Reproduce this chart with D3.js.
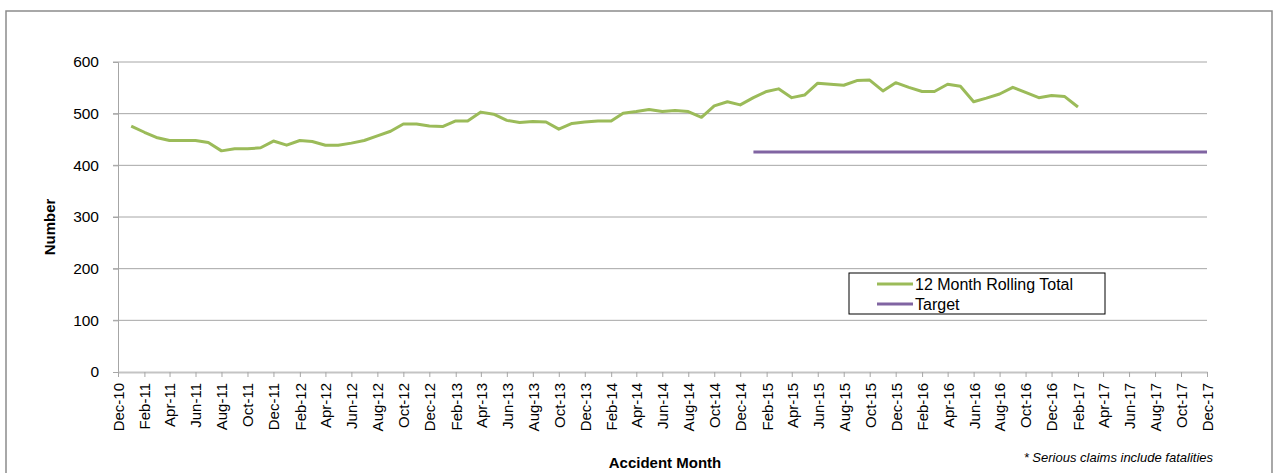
<!DOCTYPE html>
<html>
<head>
<meta charset="utf-8">
<script src="https://cdn.jsdelivr.net/npm/d3@7"></script>
<style>
  body { margin: 0; background: #fff; }
  svg { display: block; }
  text { font-family: "Liberation Sans", Arial, sans-serif; fill: #000; }
</style>
</head>
<body>
<svg id="chart"></svg>
<script>
// 12 month rolling total, Jan-11 .. Feb-17
const seriesName = "12 Month Rolling Total";
const rollingTotal = [
  476, 464, 454, 448, 448, 448, 444, 428, 432, 432, 434, 447, // 2011
  439, 448, 446, 439, 439, 443, 448, 457, 466, 480, 480, 476, // 2012
  475, 486, 486, 503, 499, 487, 483, 485, 484, 470, 481, 484, // 2013
  486, 486, 501, 504, 508, 504, 506, 504, 493, 515, 523, 517, // 2014
  531, 543, 548, 531, 536, 559, 557, 555, 564, 565, 544, 560, // 2015
  551, 543, 543, 557, 553, 523, 530, 538, 551, 541, 531, 535, // 2016
  533, 513                                                    // 2017
];
const firstMonth = new Date(2011, 0, 1);

const targetName = "Target";
const targetValue = 426;
const targetStart = new Date(2015, 0, 1);
const targetEnd = new Date(2017, 11, 1);

const axisStart = new Date(2010, 11, 1);
const axisEnd = new Date(2017, 11, 1);
const yTicks = [0, 100, 200, 300, 400, 500, 600];

const width = 1275, height = 473;
const svg = d3.select("#chart").attr("width", width).attr("height", height);

// outer chart frame (bottom edge is off the picture)
svg.append("path")
  .attr("d", "M6,480 V11 H1272 V480")
  .attr("fill", "none")
  .attr("stroke", "#8c8c8c")
  .attr("stroke-width", 1.5);

const x = d3.scaleTime().domain([axisStart, axisEnd]).range([118, 1207]);
const y = d3.scaleLinear().domain([0, 600]).range([372, 62]);

const months = rollingTotal.map((v, i) => ({ date: d3.timeMonth.offset(firstMonth, i), value: v }));

// gridlines
svg.append("g")
  .selectAll("line")
  .data(yTicks.filter(d => d > 0))
  .join("line")
  .attr("x1", 113).attr("x2", x(axisEnd))
  .attr("y1", d => y(d)).attr("y2", d => y(d))
  .attr("stroke", "#a6a6a6").attr("stroke-width", 1);

// y axis
const yAxis = svg.append("g")
  .attr("transform", "translate(118,0)")
  .call(d3.axisLeft(y).tickValues(yTicks).tickSize(5).tickPadding(14));
yAxis.select(".domain").attr("stroke", "#a6a6a6");
yAxis.selectAll(".tick line").attr("stroke", "#a6a6a6");
yAxis.selectAll("text")
  .style("font-size", "15.5px")
  .attr("fill", "#000")
  .style("font-family", "'Liberation Sans', Arial, sans-serif");

// x axis
const xTickValues = d3.timeMonth.range(axisStart, d3.timeDay.offset(axisEnd, 1), 2);
const xAxis = svg.append("g")
  .attr("transform", "translate(0,372)")
  .call(d3.axisBottom(x).tickValues(xTickValues).tickFormat(d3.timeFormat("%b-%y")).tickSize(5).tickSizeOuter(0));
xAxis.select(".domain").attr("stroke", "#c4c4c4").attr("stroke-width", 2);
xAxis.selectAll(".tick line").attr("stroke", "#a6a6a6");
xAxis.selectAll("text")
  .attr("transform", "rotate(-90)")
  .attr("text-anchor", "end")
  .attr("x", -11)
  .attr("y", 0)
  .attr("dy", "0.36em")
  .attr("fill", "#000")
  .style("font-size", "15px")
  .style("font-family", "'Liberation Sans', Arial, sans-serif");

// target line
svg.append("line")
  .attr("x1", x(targetStart)).attr("x2", x(targetEnd))
  .attr("y1", y(targetValue)).attr("y2", y(targetValue))
  .attr("stroke", "#8064a2").attr("stroke-width", 3);

// rolling total line
const line = d3.line().x(d => x(d.date)).y(d => y(d.value));
svg.append("path")
  .datum(months)
  .attr("d", line)
  .attr("fill", "none")
  .attr("stroke", "#9bbb59")
  .attr("stroke-width", 3)
  .attr("stroke-linejoin", "round");

// axis titles
svg.append("text")
  .attr("transform", "translate(55,227) rotate(-90)")
  .attr("text-anchor", "middle")
  .style("font-size", "15px")
  .style("font-weight", "bold")
  .text("Number");

svg.append("text")
  .attr("x", 665).attr("y", 468)
  .attr("text-anchor", "middle")
  .style("font-size", "15px")
  .style("font-weight", "bold")
  .text("Accident Month");

svg.append("text")
  .attr("x", 1213).attr("y", 462)
  .attr("text-anchor", "end")
  .style("font-size", "13px")
  .style("font-style", "italic")
  .text("* Serious claims include fatalities");

// legend
const legend = svg.append("g").attr("transform", "translate(849,273)");
legend.append("rect")
  .attr("width", 256).attr("height", 41)
  .attr("fill", "#fff").attr("stroke", "#000").attr("stroke-width", 1);
const legendItems = [
  { name: seriesName, color: "#9bbb59" },
  { name: targetName, color: "#8064a2" }
];
legendItems.forEach((d, i) => {
  const yy = 11 + i * 20;
  legend.append("line")
    .attr("x1", 28).attr("x2", 64)
    .attr("y1", yy).attr("y2", yy)
    .attr("stroke", d.color).attr("stroke-width", 3);
  legend.append("text")
    .attr("x", 66).attr("y", yy).attr("dy", "0.35em")
    .style("font-size", "16px")
    .text(d.name);
});
</script>
</body>
</html>
